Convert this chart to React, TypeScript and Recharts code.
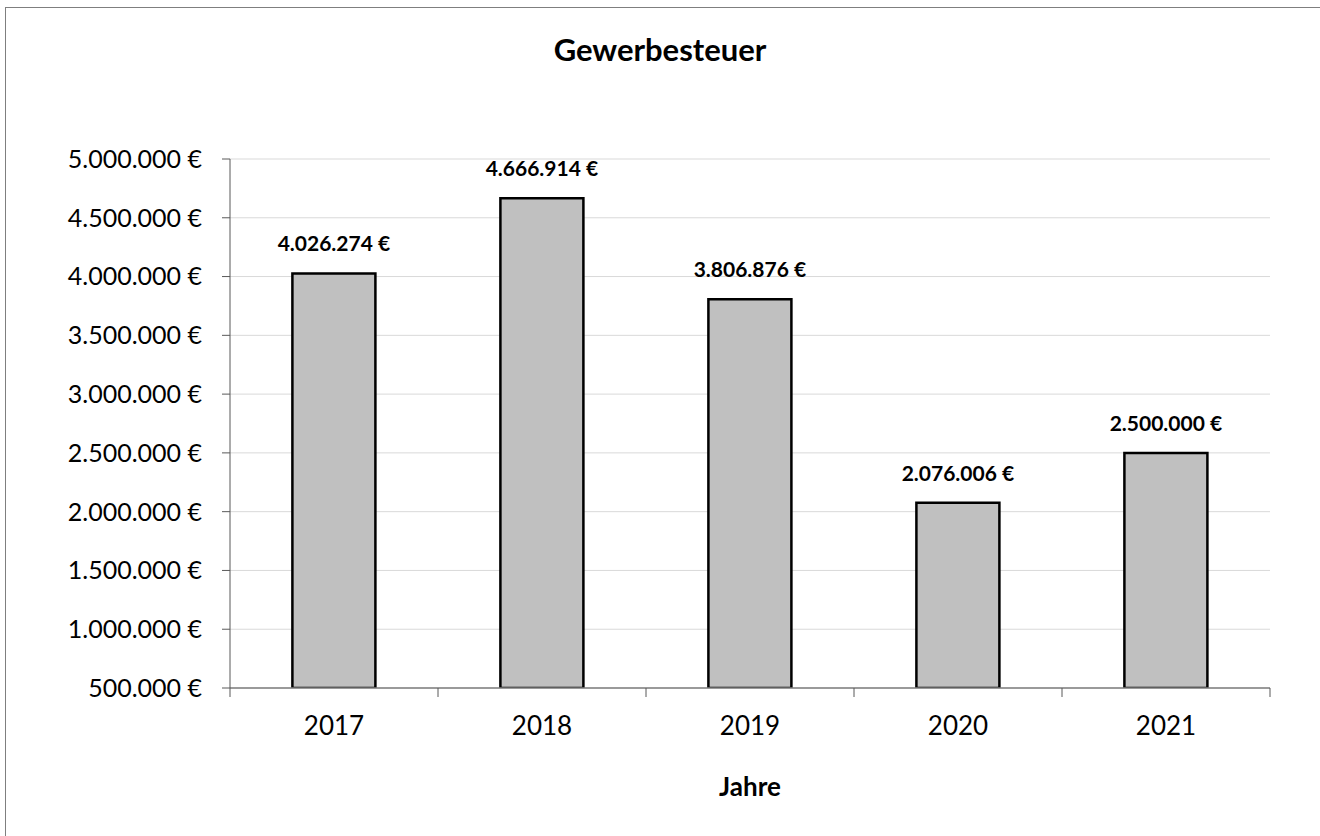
import React from 'react';
import { BarChart, Bar, XAxis, YAxis, CartesianGrid, LabelList } from 'recharts';

const years = ['2017', '2018', '2019', '2020', '2021'];
const gewerbesteuer = [4026274, 4666914, 3806876, 2076006, 2500000];
const yTicks = [500000, 1000000, 1500000, 2000000, 2500000, 3000000, 3500000, 4000000, 4500000, 5000000];

const data = years.map((year, i) => ({ year, value: gewerbesteuer[i] }));

const FONT = 'Lato, "Noto Sans", sans-serif';
const PLOT_LEFT = 230;
const PLOT_RIGHT = 1270;
const BAND = (PLOT_RIGHT - PLOT_LEFT) / years.length;

const euro = (v: number) => `${v.toLocaleString('de-DE')} €`;

// category ticks: label at center, tick marks at the band boundaries
const XTick = (props: any) => {
  const { x, y, payload, index } = props;
  const axisY = y - 8;
  return (
    <g>
      <line x1={x - BAND / 2} y1={axisY} x2={x - BAND / 2} y2={axisY + 9} stroke="#595959" strokeWidth={1} />
      {index === years.length - 1 && (
        <line x1={x + BAND / 2} y1={axisY} x2={x + BAND / 2} y2={axisY + 9} stroke="#595959" strokeWidth={1} />
      )}
      <text x={x} y={axisY + 47} textAnchor="middle" fontFamily={FONT} fontSize={26} fill="#000">
        {payload.value}
      </text>
    </g>
  );
};

const ValueLabel = (props: any) => {
  const { x, y, width, value } = props;
  return (
    <text x={x + width / 2} y={y - 22} textAnchor="middle" fontFamily={FONT} fontSize={21} fontWeight="bold" fill="#000">
      {euro(value)}
    </text>
  );
};

export default function App() {
  return (
    <div style={{ position: 'relative', width: 1320, height: 836, overflow: 'hidden', background: '#fff' }}>
      <style>{`body{margin:0}`}</style>
      <div style={{ position: 'absolute', left: 5, top: 7, width: 1400, height: 900, border: '1px solid #7f7f7f' }} />
      <div style={{ position: 'absolute', left: 0, top: 31, width: 1320, textAlign: 'center', fontFamily: FONT, fontWeight: 'bold', fontSize: 31, lineHeight: '37px' }}>
        Gewerbesteuer
      </div>
      <div style={{ position: 'absolute', left: 0, top: 771, width: 1320, textAlign: 'center', fontFamily: FONT, fontWeight: 'bold', fontSize: 26, lineHeight: '31px', paddingLeft: 180, boxSizing: 'border-box' }}>
        Jahre
      </div>
      <div style={{ position: 'absolute', left: 0, top: 0 }}>
        <BarChart width={1320} height={836} data={data} margin={{ top: 159, right: 50, bottom: 108, left: 0 }} barCategoryGap="30%">
          <CartesianGrid vertical={false} stroke="#d9d9d9" />
          <XAxis dataKey="year" height={40} axisLine={{ stroke: '#7f7f7f', strokeWidth: 1.5 }} tickLine={false} tick={<XTick />} interval={0} />
          <YAxis
            width={230}
            domain={[500000, 5000000]}
            ticks={yTicks}
            allowDataOverflow
            axisLine={{ stroke: '#595959' }}
            tickLine={{ stroke: '#595959' }}
            tickSize={8}
            tickMargin={20}
            tickFormatter={euro}
            tick={{ fontFamily: FONT, fontSize: 25, fill: '#000' }}
          />
          <Bar dataKey="value" fill="#c0c0c0" stroke="#000" strokeWidth={2.5} isAnimationActive={false}>
            <LabelList dataKey="value" content={<ValueLabel />} />
          </Bar>
        </BarChart>
      </div>
    </div>
  );
}
